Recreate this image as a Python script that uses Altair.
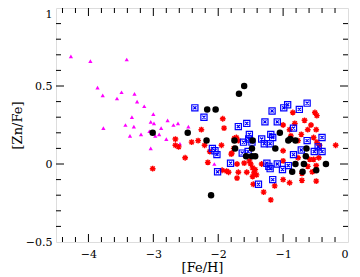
import altair as alt
import pandas as pd

# ---- data ----
mag_x = [-4.27, -3.97, -3.41, -3.86, -3.78, -3.49, -3.56, -3.29, -3.25, -3.14, -3.00, -3.33,
         -3.77, -3.43, -3.30, -3.04, -2.99, -2.78, -2.88, -3.36, -3.19, -3.06, -2.97, -2.91,
         -2.80, -3.04, -2.69, -2.62, -2.46, -2.59, -2.06]
mag_y = [0.69, 0.66, 0.67, 0.49, 0.44, 0.46, 0.42, 0.45, 0.40, 0.37, 0.32, 0.30,
         0.23, 0.25, 0.24, 0.27, 0.26, 0.28, 0.23, 0.18, 0.19, 0.21, 0.18, 0.19,
         0.16, 0.10, 0.25, 0.26, 0.24, 0.13, 0.00]

red_x = [-3.01, -2.66, -2.66, -2.61, -2.51, -2.41, -2.31, -2.26, -2.21, -2.13, -2.16,
         -1.93, -1.91, -1.72, -1.95, -1.79, -1.76, -1.87, -1.84, -1.94, -1.71, -1.60,
         -1.52, -1.50, -1.47, -1.43, -1.45, -1.69, -1.56, -1.47, -1.71, -1.41, -1.46,
         -1.33, -1.30, -1.19, -1.13, -1.00, -0.90, -0.71, -0.49, -0.19, -0.71, -0.77,
         -0.55, -0.53, -0.45, -0.85, -0.51, -0.48, -0.67, -0.57, -0.82, -1.00, -0.62,
         -0.49, -0.90, -0.72, -0.77, -0.53, -0.48, -0.44, -1.00, -0.88, -1.75, -1.80,
         -1.69, -0.59, -0.62, -0.49, -1.00]
red_y = [-0.03, 0.16, 0.12, 0.11, 0.04, 0.14, 0.15, 0.22, 0.12, 0.08, 0.01,
         0.29, 0.23, 0.17, 0.12, 0.07, 0.10, -0.046, -0.053, -0.04, 0.00, 0.006,
         0.02, 0.00, -0.025, -0.036, -0.057, -0.053, -0.053, -0.08, -0.09, -0.07, -0.13,
         0.00, -0.18, -0.23, -0.14, -0.10, -0.12, -0.105, -0.11, 0.12, -0.06, 0.04,
         -0.05, 0.03, 0.04, 0.33, 0.33, 0.31, 0.28, 0.25, 0.26, 0.25, 0.22,
         0.22, 0.22, 0.19, 0.15, 0.17, 0.14, 0.12, 0.085, 0.18, 0.165, 0.063,
         0.15, 0.03, -0.015, -0.01, 0.02]

blu_x = [-2.36, -2.22, -1.69, -1.56, -1.28, -1.17, -1.09, -0.99, -0.93, -0.75, -0.63,
         -0.84, -1.52, -1.19, -1.16, -1.33, -0.40, -1.61, -1.53, -2.09, -2.05, -2.02,
         -1.81, -2.01, -1.63, -1.54, -1.38, -1.25, -1.22, -1.20, -1.16, -1.09, -1.01,
         -0.92, -0.84, -0.72, -0.63, -0.40, -0.46, -0.52, -1.20, -1.29, -1.48]
blu_y = [0.36, 0.30, 0.24, 0.26, 0.27, 0.34, 0.27, 0.36, 0.38, 0.35, 0.39,
         0.23, 0.19, 0.19, 0.17, 0.16, 0.17, 0.14, 0.16, 0.10, 0.085, 0.06,
         0.005, -0.05, 0.07, 0.08, -0.13, 0.005, -0.015, -0.03, -0.10, 0.00, -0.035,
         -0.01, 0.06, 0.09, 0.15, 0.08, 0.11, 0.08, 0.13, 0.13, 0.14]

blk_x = [-3.01, -2.47, -2.17, -2.04, -2.18, -1.75, -1.68, -1.60, -1.74, -1.47, -1.48,
         -1.57, -1.48, -1.43, -2.11, -1.12, -1.05, -0.92, -0.89, -0.81, -0.64, -0.65,
         -0.81, -0.68, -0.34, -0.86, -0.70, -0.49]
blk_y = [0.20, 0.20, 0.35, 0.35, 0.15, 0.15, 0.45, 0.50, 0.10, 0.15, 0.10,
         0.05, 0.05, 0.05, -0.20, 0.10, 0.20, 0.15, 0.16, 0.15, 0.10, 0.05,
         0.00, 0.00, 0.00, -0.05, -0.05, -0.04]

x_labels = [-4, -3, -2, -1, 0]
y_labels = [-0.5, 0, 0.5, 1]
x_major = [-4, -3, -2, -1]
x_minor = [-4.4, -4.2, -3.8, -3.6, -3.4, -3.2, -2.8, -2.6, -2.4, -2.2,
           -1.8, -1.6, -1.4, -1.2, -0.8, -0.6, -0.4, -0.2]
y_major = [0, 0.5]
y_minor = [-0.4, -0.3, -0.2, -0.1, 0.1, 0.2, 0.3, 0.4, 0.6, 0.7, 0.8, 0.9]

# ---- chart ----
W, H = 292, 234
MAJ, MIN = 8, 5
FONT = "DejaVu Serif"

xs = alt.Scale(domain=[-4.5, 0], nice=False, zero=False)
ys = alt.Scale(domain=[-0.5, 1], nice=False, zero=False)

x_axis = alt.Axis(values=x_labels, format="~g", ticks=False, domain=False, grid=False,
                  labelFont=FONT, labelFontSize=11, labelColor="black", labelPadding=6,
                  title="[Fe/H]", titleFont=FONT, titleFontSize=13, titleFontWeight="normal",
                  titleColor="black", titlePadding=2)
y_axis = alt.Axis(values=y_labels, format="~g", ticks=False, domain=False, grid=False,
                  labelFont=FONT, labelFontSize=11, labelColor="black", labelPadding=4,
                  labelBaseline={"condition": {"test": "datum.value == 1", "value": "top"},
                                 "value": "middle"},
                  title="[Zn/Fe]", titleFont=FONT, titleFontSize=13, titleFontWeight="normal",
                  titleColor="black", titlePadding=1)

def pts(xv, yv):
    return pd.DataFrame({"x": xv, "y": yv})

mag = alt.Chart(pts(mag_x, mag_y)).mark_point(
    shape="triangle-up", filled=True, color="#ff00ff", size=18, opacity=1
).encode(x=alt.X("x:Q", scale=xs, axis=x_axis), y=alt.Y("y:Q", scale=ys, axis=y_axis))

star = "M-1,0L1,0M0,-1L0,1M-0.72,-0.72L0.72,0.72M-0.72,0.72L0.72,-0.72"
red = alt.Chart(pts(red_x, red_y)).mark_point(
    shape=star, filled=False, color="#ff0000", size=34, strokeWidth=1.4, opacity=1
).encode(x=alt.X("x:Q", scale=xs), y=alt.Y("y:Q", scale=ys))

box = "M-1,-1L1,-1L1,1L-1,1Z M-0.5,-0.5L0.5,0.5 M-0.5,0.5L0.5,-0.5"
blu = alt.Chart(pts(blu_x, blu_y)).mark_point(
    shape=box, filled=False, color="#0000ff", size=38, strokeWidth=1.2, opacity=1
).encode(x=alt.X("x:Q", scale=xs), y=alt.Y("y:Q", scale=ys))

blk = alt.Chart(pts(blk_x, blk_y)).mark_circle(
    color="black", size=42, opacity=1
).encode(x=alt.X("x:Q", scale=xs), y=alt.Y("y:Q", scale=ys))

def xticks(vals, length):
    d = alt.Chart(pd.DataFrame({"v": vals}))
    bot = d.mark_rule(color="black", strokeWidth=1).encode(
        x=alt.X("v:Q", scale=xs), y=alt.value(H), y2=alt.value(H - length))
    top = d.mark_rule(color="black", strokeWidth=1).encode(
        x=alt.X("v:Q", scale=xs), y=alt.value(0), y2=alt.value(length))
    return [bot, top]

def yticks(vals, length):
    d = alt.Chart(pd.DataFrame({"v": vals}))
    lef = d.mark_rule(color="black", strokeWidth=1).encode(
        y=alt.Y("v:Q", scale=ys), x=alt.value(0), x2=alt.value(length))
    rig = d.mark_rule(color="black", strokeWidth=1).encode(
        y=alt.Y("v:Q", scale=ys), x=alt.value(W), x2=alt.value(W - length))
    return [lef, rig]

layers = [mag, red, blu, blk] + xticks(x_major, MAJ) + xticks(x_minor, MIN) \
    + yticks(y_major, MAJ) + yticks(y_minor, MIN)

chart = alt.layer(*layers).properties(
    width=W, height=H,
    autosize=alt.AutoSizeParams(type="none"),
    padding={"left": 48, "top": 0, "right": 4, "bottom": 35},
).configure_view(stroke="black", strokeWidth=1).configure(background="white")

chart.save("out.html", embed_options={"renderer": "svg", "actions": False})
